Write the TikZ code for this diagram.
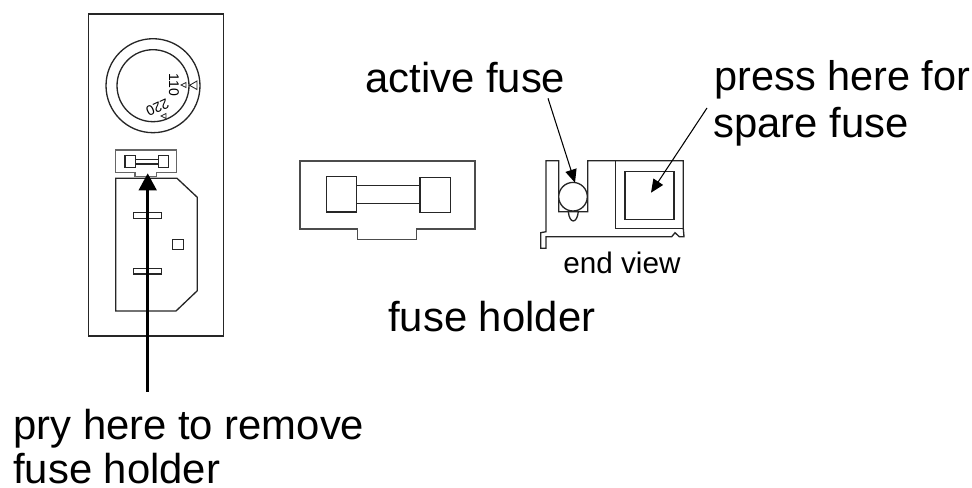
\documentclass[tikz,border=0pt]{standalone}
\usepackage{fontspec}
\setmainfont{Liberation Sans}
\usetikzlibrary{arrows.meta}
\tikzset{
    part/.style={draw=black!85, line width=0.75pt},
    callout/.style={anchor=base west, inner sep=0pt, font=\fontsize{23.8}{28}\selectfont},
    pointer/.style={black, line width=0.6pt, -{Triangle[length=7.5pt, width=6.5pt]}},
    dial/.style={inner sep=0pt, font=\fontsize{8}{9}\selectfont}
}
\begin{document}
\begin{tikzpicture}[x=0.02cm, y=-0.02cm]
    \useasboundingbox (0, 0) rectangle (972, 487);

    % Panel
    \draw[part] (88.5, 14) rectangle (223.7, 336);
    \draw[part] (153, 85.7) circle [radius=0.94cm];
    \draw[part] (153, 85.7) circle [radius=0.72cm];
    \node[dial, rotate=-90] (dialA) at (174, 85) {110};
    \node[dial, rotate=205] (dialB) at (157.5, 107.5) {220};
    \draw[part, line width=0.5pt] (189.5, 85.3) -- (197, 81) -- (197, 89.5) -- cycle;
    \draw[part, line width=0.4pt] (181, 85) -- (186, 82.5) -- (186, 87.5) -- cycle;
    \draw[part, line width=0.4pt] (161, 116) -- (166, 113.5) -- (166, 118.5) -- cycle;

    % Small holder
    \draw[part, draw=black!60] (115.7, 150) -- (176.7, 150) -- (176.7, 172.7) -- (156.7, 172.7) -- (156.7, 176.7)
        -- (135, 176.7) -- (135, 172.7) -- (115.7, 172.7) -- cycle;
    \draw[part] (125, 155.7) rectangle (135.7, 167.7);
    \draw[part] (158.3, 155.7) rectangle (168.3, 167.7);
    \draw[part] (135.7, 159.3) rectangle (158.3, 164);

    % Socket
    \draw[part] (115.7, 178.3) -- (177, 178.3) -- (197.3, 197.3) -- (197.3, 290.7) -- (176, 311) -- (115.7, 311) -- cycle;
    \draw[part] (133.7, 212.3) rectangle (161.3, 218.3);
    \draw[part] (133.7, 268.3) rectangle (161.3, 274);
    \draw[part] (172.7, 239.3) rectangle (183.7, 249.3);

    % Large holder
    \draw[part, draw=black!70] (300, 161) -- (475, 161) -- (475, 229) -- (416.7, 229) -- (416.7, 239.3)
        -- (357.3, 239.3) -- (357.3, 229) -- (300, 229) -- cycle;
    \draw[part] (326.3, 176.3) rectangle (356.7, 212);
    \draw[part] (420, 177.3) rectangle (450.7, 212.7);
    \draw[part] (356.7, 185.3) rectangle (420, 203.3);

    % End view
    \draw[part] (546, 160.7) -- (558.7, 160.7) -- (558.7, 211.7) -- (587.7, 211.7) -- (587.7, 160.7) -- (683.3, 160.7)
        -- (683.3, 228.7) -- (684, 236.7) -- (679.3, 236.7) -- (675, 232.7) -- (671.7, 236.7) -- (546, 236.7)
        -- (546, 248.3) -- (540.7, 248.3) -- (540.7, 232.7) -- (546, 231.7) -- cycle;
    \draw[part] (615.3, 160.7) -- (615.3, 228.7) -- (683.3, 228.7);
    \draw[part] (625, 171.3) rectangle (674, 219.3);
    \draw[part] (568.3, 211.7) .. controls (569.5, 224) and (577, 224) .. (578.3, 211.7);
    \draw[part, fill=white] (573, 196.7) circle [radius=0.286cm];

    % Labels
    \node[callout] (activeLabel) at (365, 92.7) {active fuse};
    \node[callout, font=\fontsize{23.6}{28}\selectfont] (pressLabel) at (714, 90.7) {press here for};
    \node[callout] (spareLabel) at (713, 137.3) {spare fuse};
    \node[callout, font=\fontsize{16.9}{20}\selectfont] (endLabel) at (563, 273.3) {end view};
    \node[callout] (holderLabel) at (388, 331) {fuse holder};
    \node[callout] (pryLabel) at (13, 439.3) {pry here to remove};
    \node[callout] (pryLabelB) at (13, 483.5) {fuse holder};

    % Pointers
    \coordinate (activeStart) at (548, 98.3);
    \coordinate (activeTip) at (575, 182.7);
    \coordinate (spareStart) at (707, 108);
    \coordinate (spareTip) at (651, 192.7);
    \coordinate (pryStart) at (147.7, 391.7);
    \coordinate (pryTip) at (147.7, 173.3);
    \draw[pointer] (activeStart) -- (activeTip);
    \draw[pointer] (spareStart) -- (spareTip);
    \draw[black, line width=1.7pt, -{Triangle[length=9.7pt, width=10pt]}] (pryStart) -- (pryTip);
\end{tikzpicture}
\end{document}
